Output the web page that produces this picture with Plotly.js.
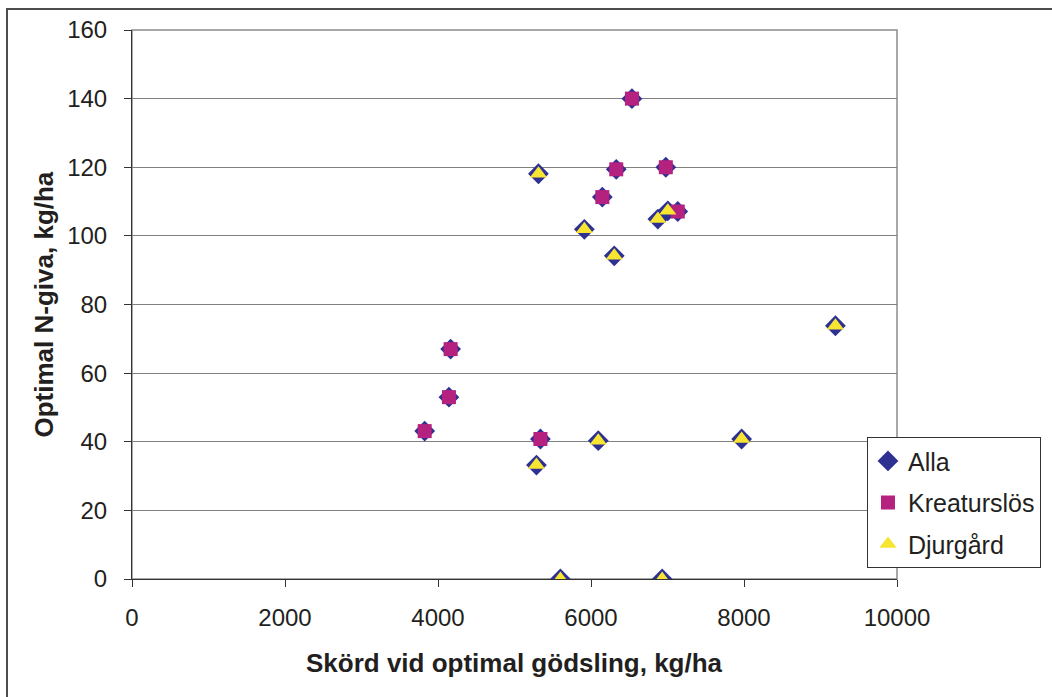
<!DOCTYPE html>
<html>
<head>
<meta charset="utf-8">
<script src="https://cdn.plot.ly/plotly-3.0.1.min.js"></script>
<style>
  html, body { margin: 0; padding: 0; background: #ffffff; }
  #wrap { position: relative; width: 1052px; height: 697px; overflow: hidden; }
  #chart { position: absolute; left: 0; top: 0; width: 1052px; height: 697px; }
  #frame { position: absolute; left: 6px; top: 8px; width: 1100px; height: 800px;
           border-top: 2px solid #4d4d4d; border-left: 2px solid #4d4d4d; pointer-events: none; }
</style>
</head>
<body>
<div id="wrap">
  <div id="chart"></div>
  <div id="frame"></div>
</div>
<script>
// Series names
const seriesNames = ["Alla", "Kreaturslös", "Djurgård"];

// Alla (all sites)
const allaX = [6535, 6330, 6978, 6148, 7134, 4165, 4143, 3826, 5339,
               5313, 7004, 6874, 5913, 6304, 6095, 7969, 5287, 5600, 6930, 9195];
const allaY = [140, 119.4, 120, 111.3, 107.1, 67, 53, 43.1, 40.8,
               118.1, 107.3, 104.9, 101.9, 94.2, 40.3, 40.8, 33.2, 0, 0, 73.8];

// Kreaturslös
const kreX = [6535, 6330, 6978, 6148, 7134, 4165, 4143, 3826, 5339];
const kreY = [140, 119.4, 120, 111.3, 107.1, 67, 53, 43.1, 40.8];

// Djurgård
const djuX = [5313, 7004, 6874, 5913, 6304, 6095, 7969, 5287, 5600, 6930, 9195];
const djuY = [118.1, 107.3, 104.9, 101.9, 94.2, 40.3, 40.8, 33.2, 0, 0, 73.8];

// Axis ticks
const xTicks = [0, 2000, 4000, 6000, 8000, 10000];
const yTicks = [0, 20, 40, 60, 80, 100, 120, 140, 160];

const FONT = "Liberation Sans, Arial, Helvetica, sans-serif";
const TXT = "#231f20";

const traces = [
  { x: allaX, y: allaY, name: seriesNames[0], type: "scatter", mode: "markers",
    legendgroup: "a",
    marker: { symbol: "diamond", size: 16, color: "#2e3192", line: { width: 0 } } },
  { x: kreX, y: kreY, name: seriesNames[1], type: "scatter", mode: "markers",
    legendgroup: "k",
    marker: { symbol: "square", size: 14, color: "#b5217f", line: { width: 0 } } },
  { x: djuX, y: djuY, name: seriesNames[2], type: "scatter", mode: "markers",
    legendgroup: "d",
    marker: { symbol: "triangle-up", size: 15, color: "#f7e531", line: { width: 0 } } }
];

const layout = {
  width: 1052, height: 697,
  margin: { l: 132, r: 154, t: 30, b: 118, pad: 0 },
  paper_bgcolor: "#ffffff",
  plot_bgcolor: "#ffffff",
  font: { family: FONT, color: TXT, size: 24 },
  showlegend: true,
  legend: {
    x: 0.9595, y: 0.2584, xanchor: "left", yanchor: "top",
    bgcolor: "#ffffff", bordercolor: "#333333", borderwidth: 1,
    font: { family: FONT, size: 25, color: TXT },
    tracegroupgap: 6
  },
  xaxis: {
    range: [0, 10000], tickvals: xTicks, ticktext: xTicks.map(String),
    showgrid: false, zeroline: false,
    showline: true, linecolor: "#333333", linewidth: 1,
    ticks: "outside", ticklen: 7, tickcolor: "#333333", tickwidth: 1,
    tickfont: { family: FONT, size: 24, color: TXT },
    ticklabelstandoff: 10,
    fixedrange: true
  },
  yaxis: {
    range: [0, 160], tickvals: yTicks, ticktext: yTicks.map(String),
    showgrid: true, gridcolor: "#808080", gridwidth: 1,
    zeroline: false,
    showline: true, linecolor: "#333333", linewidth: 1,
    ticks: "outside", ticklen: 7, tickcolor: "#333333", tickwidth: 1,
    tickfont: { family: FONT, size: 24, color: TXT },
    ticklabelstandoff: 12,
    fixedrange: true
  },
  shapes: [
    { type: "rect", xref: "paper", yref: "paper", x0: 0, x1: 1, y0: 0, y1: 1,
      line: { color: "#8c8c8c", width: 1.5 }, layer: "below" }
  ],
  annotations: [
    { text: "<b>Skörd vid optimal gödsling, kg/ha</b>", xref: "paper", yref: "paper",
      x: 0.5, y: 0, xanchor: "center", yanchor: "middle", yshift: -84, showarrow: false,
      font: { family: FONT, size: 26, color: TXT } },
    { text: "<b>Optimal N-giva, kg/ha</b>", xref: "paper", yref: "paper",
      x: 0, y: 0.5, xanchor: "center", yanchor: "middle", xshift: -89, textangle: -90,
      showarrow: false, font: { family: FONT, size: 26, color: TXT } }
  ]
};

Plotly.newPlot("chart", traces, layout, { displayModeBar: false, staticPlot: true });
</script>
</body>
</html>
